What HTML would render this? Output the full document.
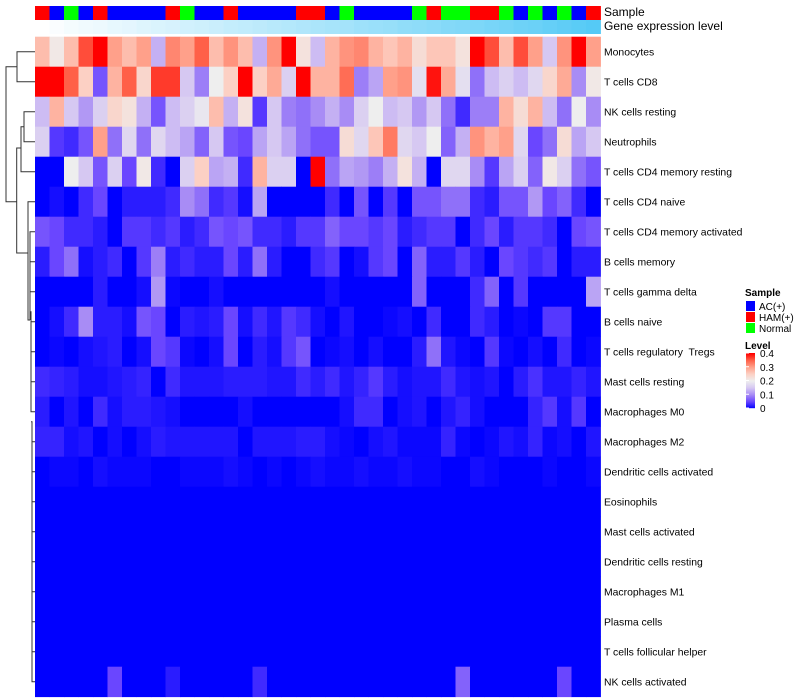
<!DOCTYPE html>
<html><head><meta charset="utf-8"><style>
html,body{margin:0;padding:0;background:#fff;}
svg{display:block;font-family:"Liberation Sans",Arial,sans-serif;}
</style></head><body>
<svg id="chart" width="800" height="700" viewBox="0 0 800 700" xmlns="http://www.w3.org/2000/svg">
<g id="dendro" fill="none" stroke="#333" stroke-width="1"></g>
<g id="cells"></g>
<g id="anno"></g>
<g id="labels" font-size="10.4" fill="#000"></g>
<g id="legend"></g>
</svg>
<script>
const rowNames=["Monocytes","T cells CD8","NK cells resting","Neutrophils","T cells CD4 memory resting","T cells CD4 naive","T cells CD4 memory activated","B cells memory","T cells gamma delta","B cells naive","T cells regulatory  Tregs","Mast cells resting","Macrophages M0","Macrophages M2","Dendritic cells activated","Eosinophils","Mast cells activated","Dendritic cells resting","Macrophages M1","Plasma cells","T cells follicular helper","NK cells activated"];
const sampleGroups=["H","A","N","A","H","A","A","A","A","H","N","A","A","H","A","A","A","A","H","H","A","N","A","A","A","A","N","H","N","N","H","H","N","A","N","A","N","A","H"];
const geneLevel=[0,0.03,0.06,0.08,0.1,0.13,0.15,0.18,0.2,0.22,0.25,0.27,0.29,0.32,0.34,0.36,0.39,0.41,0.43,0.46,0.48,0.5,0.53,0.55,0.57,0.6,0.62,0.64,0.67,0.69,0.71,0.74,0.76,0.79,0.81,0.84,0.87,0.9,0.93];
const rMono=[.27,.21,.27,.36,.4,.3,.27,.3,.13,.32,.3,.35,.27,.31,.27,.13,.31,.4,.22,.14,.28,.31,.32,.28,.26,.28,.23,.26,.26,.22,.4,.36,.27,.36,.3,.15,.31,.4,.3];
const rCD8=[.4,.4,.35,.25,.06,.28,.35,.24,.37,.37,.15,.09,.2,.25,.4,.25,.29,.16,.4,.28,.28,.34,.09,.12,.3,.31,.18,.39,.29,.18,.08,.14,.16,.14,.17,.24,.29,.1,.21];
const rNKr=[.14,.28,.15,.11,.16,.24,.22,.13,.06,.14,.16,.19,.27,.13,.22,.04,.15,.09,.08,.1,.13,.1,.16,.2,.14,.15,.11,.15,.08,.03,.09,.09,.28,.23,.28,.14,.08,.2,.1];
const rNeu=[.16,.04,.03,.06,.3,.08,.17,.08,.17,.14,.12,.07,.15,.06,.05,.12,.15,.12,.08,.06,.06,.23,.17,.26,.33,.17,.15,.2,.07,.13,.31,.28,.3,.17,.05,.08,.23,.12,.15];
const rCD4mr=[0,0,.2,.15,.06,.16,.05,.21,.03,0,.16,.25,.12,.13,.03,.28,.16,.16,0,.4,.08,.12,.11,.09,.13,.22,.13,0,.17,.17,.1,.04,.12,.16,.07,.21,.16,.08,.06];
const rCD4n=[0,.01,0,.03,.05,0,.02,.02,.02,.03,.1,.08,.03,.04,.01,.12,0,0,0,0,.03,0,.06,0,.04,0,.06,.06,.08,.08,.03,.02,.06,.06,.11,.05,.07,.03,0];
const rCD4ma=[.06,.05,.03,.03,.02,0,.04,.04,.03,.04,.02,.03,.06,.05,.06,.03,.03,.02,.04,.04,.07,.05,.05,.04,.05,.02,.03,.04,.04,0,.03,.05,.02,.04,.04,.03,0,.05,.06];
const rBmem=[.02,.05,.08,.01,.02,.03,0,.04,.09,.02,.03,.02,.02,.05,.02,.08,.02,0,0,.03,.04,0,.01,.04,.05,0,.07,.02,.02,.04,.02,0,.05,.04,.03,.04,0,.02,.02];
const rGD=[0,0,0,0,.02,0,0,.01,.11,.005,0,0,.01,0,0,0,0,0,0,0,.01,0,0,0,0,0,.07,0,0,0,.03,.07,0,.04,0,0,0,0,.12];
const rBn=[0,.01,.03,.1,.02,.02,.01,.06,.05,0,.02,.015,.02,.05,.01,.03,.015,.04,.03,.01,0,.015,0,0,.005,.01,0,.03,0,0,.03,.02,0,.005,0,.04,.04,0,0];
const rTreg=[0,.005,0,.01,.015,.02,0,.01,.05,.04,.005,0,.01,.05,0,.02,.01,.04,.06,0,.005,.01,0,.01,0,0,.02,.08,.015,.005,0,.04,.005,0,.01,0,.03,0,.005];
const rMastR=[.03,.025,.02,.01,.01,.015,.02,.025,0,.03,.015,.015,.015,.02,.02,.02,.015,.015,.03,.02,.03,.015,.025,.04,.02,.01,.015,.015,.03,.015,.01,.015,0,.02,.035,.015,.015,.025,.015];
const rM0=[.02,0,.015,0,.03,.01,.02,.02,.015,.01,0,0,0,0,.01,0,0,0,0,0,0,.01,.03,.03,0,.01,.015,0,.015,.025,.01,0,0,0,.025,.04,.01,.04,0];
const rM2=[.025,.025,.01,.015,0,.01,0,.01,.02,.015,.015,.015,.015,.015,0,.015,.015,.015,.02,.02,.01,.005,0,.01,.015,.005,.005,.005,.025,.005,0,.005,.015,.01,.025,.005,.01,0,.015];
const rDCa=[0,.005,.005,0,.01,.005,.005,.005,0,0,.005,.005,.005,.01,.005,0,.005,0,.005,.01,.005,.005,.01,.005,.005,.01,.005,.005,0,0,.01,.005,0,0,0,.005,0,0,.005];
const zeros=[0,0,0,0,0,0,0,0,0,0,0,0,0,0,0,0,0,0,0,0,0,0,0,0,0,0,0,0,0,0,0,0,0,0,0,0,0,0,0];
const rNKa=[0,0,0,0,0,.05,0,0,0,.02,0,0,0,0,0,.03,0,0,0,0,0,0,0,0,0,0,0,0,0,.07,0,0,0,0,0,0,.05,0,0];
const matrix=[rMono,rCD8,rNKr,rNeu,rCD4mr,rCD4n,rCD4ma,rBmem,rGD,rBn,rTreg,rMastR,rM0,rM2,rDCa,zeros,zeros,zeros,zeros,zeros,zeros,rNKa];
const levelTicks=[0,0.1,0.2,0.3,0.4];

const NS="http://www.w3.org/2000/svg";
const X0=35,X1=600.5,Y0=36.7,RH=30;
const nCol=sampleGroups.length;
const cw=(X1-X0)/nCol;
const xPos=i=>X0+i*cw;
const yPos=r=>Y0+r*RH;
const stops=[[0,[0,0,255]],[0.05,[106,70,255]],[0.1,[168,140,245]],[0.15,[214,200,242]],[0.2,[238,238,238]],[0.25,[252,208,196]],[0.3,[255,160,138]],[0.35,[255,96,72]],[0.4,[255,0,0]]];
function col(v){v=Math.max(0,Math.min(0.4,v));for(let i=1;i<stops.length;i++){if(v<=stops[i][0]){const a=stops[i-1],b=stops[i],t=(v-a[0])/(b[0]-a[0]);return "rgb("+a[1].map((c,k)=>Math.round(c+(b[1][k]-c)*t)).join(",")+")";}}return "rgb(255,0,0)";}
function mk(tag,attrs,parent){const e=document.createElementNS(NS,tag);for(const k in attrs)e.setAttribute(k,attrs[k]);parent.appendChild(e);return e;}
const cells=document.getElementById('cells');
matrix.forEach((row,r)=>row.forEach((v,c)=>{
 const e=mk('rect',{x:xPos(c),y:yPos(r),width:cw+0.4,height:RH+0.4,fill:col(v)},cells);
 
 
}));
const anno=document.getElementById('anno');
const gcol={A:"#0000ff",H:"#ff0000",N:"#00ff00"};
sampleGroups.forEach((g,c)=>{
 const e=mk('rect',{x:xPos(c),y:6,width:cw+0.4,height:14,fill:gcol[g]},anno);
 
 
});
geneLevel.forEach((v,c)=>{
 const r=Math.round(255+(72-255)*v),g=Math.round(255+(198-255)*v),b=Math.round(255+(245-255)*v);
 const e=mk('rect',{x:xPos(c),y:20,width:cw+0.4,height:14,fill:`rgb(${r},${g},${b})`},anno);
 
 
});
const labels=document.getElementById('labels');
function txt(parent,x,y,s,name,extra){const t=mk('text',Object.assign({x:x,y:y},extra||{}),parent);t.textContent=s;t.setAttribute('style','white-space:pre');return t;}
txt(labels,604,16,"Sample","sample-annotation-label",{"font-size":12});
txt(labels,604,30,"Gene expression level","gene-expression-label",{"font-size":12});
rowNames.forEach((n,r)=>txt(labels,604,yPos(r)+19,n,"row-label"));
const d=document.getElementById('dendro');
const yc=r=>yPos(r)+15;
const paths=[
 `M35 ${yc(0)} H17 V${yc(1)} H35`,
 `M35 ${yc(2)} H24 V${yc(3)} H35`,
 `M24 ${(yc(2)+yc(3))/2} H21 V${yc(4)} H35`,
 `M17 ${(yc(0)+yc(1))/2} H6 V201.7 H16.7`,
 `M21 148 H16.7 V253 H28`,
 `M35 ${yc(5)} H28 V320 H30`,
 `M30 320 V${yc(6)} H35 M30 ${yc(6)+40} V${yc(8)} H35 M30 ${yc(7)} H35`,
 `M30 ${yc(9)-10} H31 V${yc(9)} H35 M31 ${yc(10)} H35 M31 ${yc(9)} V${yc(12)} H35 M31 ${yc(11)} H35`,
 `M31 ${yc(13)-20} H32 V${yc(13)} H35 M32 ${yc(14)} H35 M32 ${yc(13)} V${yc(21)} H35`,
 `M32 ${yc(15)} H35 M32 ${yc(16)} H35 M32 ${yc(17)} H35 M32 ${yc(18)} H35 M32 ${yc(19)} H35 M32 ${yc(20)} H35`
];
paths.forEach(p=>{const e=mk('path',{d:p},d);});
const lg=document.getElementById('legend');
txt(lg,745,296,"Sample","legend-sample-title",{"font-size":10,"font-weight":"bold"});
[["AC(+)","#0000ff"],["HAM(+)","#ff0000"],["Normal","#00ff00"]].forEach((it,i)=>{
 const s=mk('rect',{x:746,y:301+i*11,width:9,height:10,fill:it[1]},lg);
 
 
 txt(lg,759,310+i*11,it[0],"legend-entry",{"font-size":10});
});
txt(lg,745,349,"Level","legend-level-title",{"font-size":10,"font-weight":"bold"});
const cbTop=353,cbBot=408;
for(let i=0;i<55;i++){
 const v=0.4*(1-i/55);
 const e=mk('rect',{x:746,y:cbTop+i,width:9,height:1.2,fill:col(v)},lg);
 
 
}
levelTicks.forEach(t=>{
 const y=cbBot-(t/0.4)*(cbBot-cbTop);
 const l=mk('line',{x1:746,x2:749,y1:y,y2:y,stroke:"#fff","stroke-width":1},lg);
 
 
 txt(lg,760,y+4,t===0?"0":String(t),"colorbar-tick-label",{"font-size":10});
});
</script>
</body></html>
